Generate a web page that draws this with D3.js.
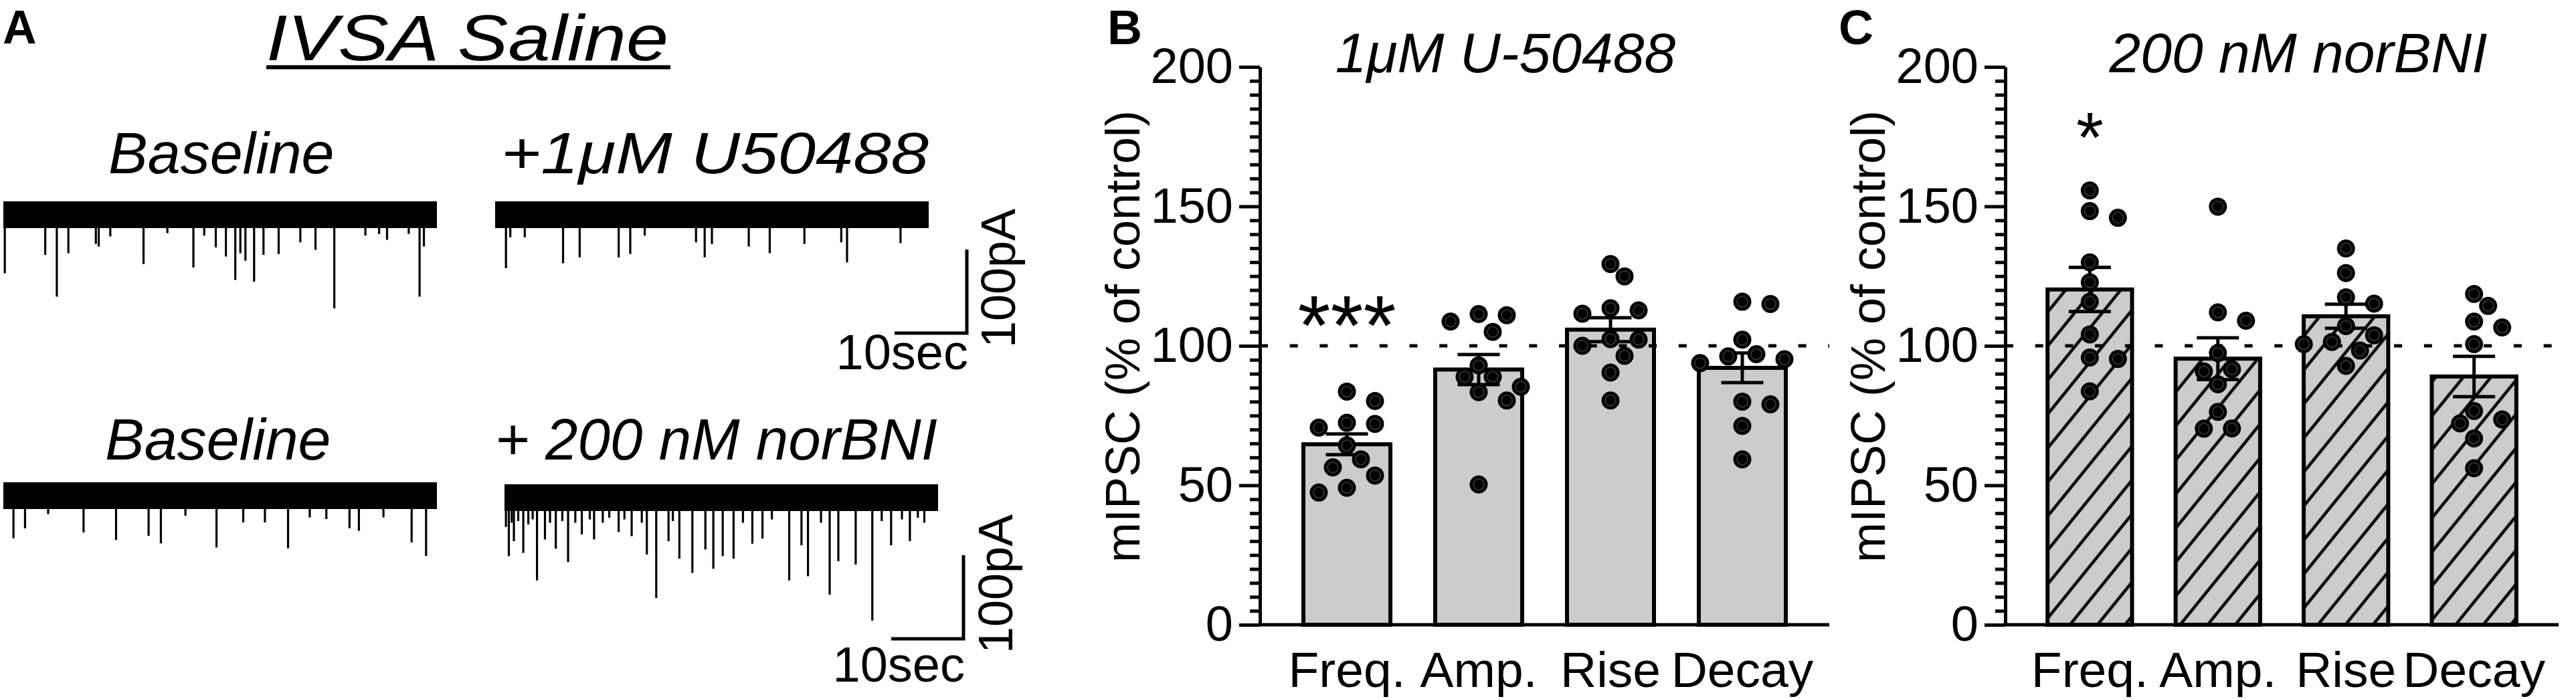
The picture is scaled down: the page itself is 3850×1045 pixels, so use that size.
<!DOCTYPE html>
<html><head><meta charset="utf-8">
<script src="https://cdn.jsdelivr.net/npm/d3@7"></script>
<style>body{margin:0;background:#fff}</style>
</head><body>
<svg id="chart" width="3850" height="1045"></svg>
<script>
// ---------------- DATA ----------------
const categories = ["Freq.", "Amp.", "Rise", "Decay"];
const yTicks = [0, 50, 100, 150, 200];

// Panel B (1 µM U-50488)
const meanB = [64.7, 91.5, 105.8, 92.1];
const semB  = [3.7, 5.4, 4.3, 5.3];
const ptsB_Freq  = [83.6, 80.2, 72.4, 72.0, 70.7, 64.3, 59.3, 56.4, 53.5, 49.1, 47.4];
const ptsB_Amp   = [111.4, 111.0, 108.7, 105.0, 93.0, 88.9, 88.9, 85.3, 83.4, 80.4, 50.3];
const ptsB_Rise  = [129.3, 124.9, 113.5, 112.7, 111.5, 102.4, 102.2, 100.0, 96.4, 90.4, 80.4];
const ptsB_Decay = [115.8, 115.0, 102.2, 97.0, 96.2, 95.2, 93.8, 80.0, 79.0, 71.3, 59.3];

// Panel C (200 nM norBNI)
const meanC = [120.2, 95.4, 110.6, 89.0];
const semC  = [7.9, 7.5, 4.3, 7.2];
const ptsC_Freq  = [155.7, 148.3, 145.9, 129.9, 122.8, 115.8, 104.1, 95.8, 95.3, 83.7];
const ptsC_Amp   = [149.9, 112.0, 109.0, 97.4, 91.6, 90.8, 86.2, 76.3, 70.4, 70.3];
const ptsC_Rise  = [134.9, 126.1, 117.4, 115.1, 107.1, 103.8, 101.4, 100.6, 98.3, 92.8];
const ptsC_Decay = [118.6, 114.3, 108.7, 106.6, 100.6, 76.6, 73.6, 72.2, 66.8, 56.1];

// Panel A traces: mIPSC event times (s) and amplitudes (pA)
const noiseBand = 16; // pA half-width of baseline noise
const trace1Times = [0.2, 5.8, 7.4, 9.0, 12.8, 13.2, 14.8, 19.4, 22.7, 26.3, 27.8, 29.4, 30.8, 32.1, 32.8, 33.5, 34.7, 36.0, 38.1, 41.1, 43.2, 45.8, 50.1, 52.0, 53.1, 56.1, 57.6, 58.2];
const trace1Amps  = [70, 48, 98, 46, 35, 38, 26, 59, 22, 63, 25, 39, 50, 78, 46, 55, 80, 48, 47, 33, 42, 112, 25, 23, 30, 23, 98, 38];
const trace2Times = [1.5, 2.1, 4.1, 9.4, 11.7, 17.1, 18.7, 20.7, 27.8, 29.0, 30.0, 35.1, 38.0, 42.8, 47.9, 48.7, 56.1];
const trace2Amps  = [64, 27, 27, 58, 51, 51, 47, 25, 33, 51, 35, 38, 46, 35, 33, 57, 34];
const trace3Times = [1.4, 3.0, 6.2, 11.1, 15.6, 20.1, 21.8, 25.2, 29.5, 33.2, 36.2, 39.4, 42.4, 44.7, 47.9, 49.2, 52.6, 56.5, 58.5];
const trace3Amps  = [51, 39, 22, 44, 53, 48, 57, 24, 62, 32, 32, 63, 26, 28, 39, 42, 26, 56, 72];
const trace4Times = [0.2, 0.6, 1.0, 1.3, 1.9, 2.6, 3.3, 3.9, 4.5, 5.6, 6.3, 7.1, 8.0, 8.8, 9.8, 10.7, 11.8, 12.4, 13.6, 14.5, 15.8, 16.6, 17.6, 19.0, 19.7, 21.0, 22.7, 23.3, 24.2, 26.0, 27.8, 28.9, 30.2, 31.7, 33.0, 34.3, 35.7, 37.0, 39.4, 41.1, 42.0, 43.8, 45.0, 46.2, 48.6, 50.9, 52.2, 53.5, 55.0, 56.1, 57.2, 58.1];
const trace4Amps  = [35, 70, 30, 52, 28, 66, 32, 26, 99, 50, 30, 61, 28, 77, 30, 44, 26, 50, 30, 24, 41, 26, 46, 30, 68, 120, 52, 28, 73, 90, 62, 85, 70, 73, 30, 55, 49, 26, 99, 57, 94, 30, 116, 76, 80, 147, 28, 57, 26, 52, 24, 30];

// ---------------- DRAW ----------------
const FONT = "'Liberation Sans', Arial, Helvetica, sans-serif";
const svg = d3.select("#chart");
svg.append("rect").attr("width", 3850).attr("height", 1045).attr("fill", "#fff");

const defs = svg.append("defs");
const pat = defs.append("pattern").attr("id", "hatch")
  .attr("patternUnits", "userSpaceOnUse").attr("width", 32).attr("height", 32)
  .attr("patternTransform", "rotate(39)");
pat.append("rect").attr("width", 32).attr("height", 32).attr("fill", "#cccccc");
pat.append("line").attr("x1", 16).attr("x2", 16).attr("y1", -2).attr("y2", 34)
  .attr("stroke", "#000").attr("stroke-width", 4.5);

function txt(x, y, s, size, opts = {}) {
  const t = svg.append("text").attr("x", x).attr("y", y).text(s)
    .attr("font-family", FONT).attr("font-size", size).attr("fill", "#000");
  if (opts.italic) t.attr("font-style", "italic");
  if (opts.bold) t.attr("font-weight", "bold");
  if (opts.anchor) t.attr("text-anchor", opts.anchor);
  if (opts.len) t.attr("textLength", opts.len).attr("lengthAdjust", "spacingAndGlyphs");
  if (opts.transform) t.attr("transform", opts.transform);
  return t;
}

// ---- Panel A ----
txt(4, 65, "A", 70, { bold: true });
txt(398, 90, "IVSA Saline", 96, { italic: true, len: 601 });
svg.append("line").attr("x1", 398).attr("x2", 1002).attr("y1", 100.5).attr("y2", 100.5)
  .attr("stroke", "#000").attr("stroke-width", 6);
txt(162, 259, "Baseline", 88, { italic: true });
txt(749, 259, "+1\u03bcM U50488", 88, { italic: true, len: 639 });
txt(157, 687, "Baseline", 88, { italic: true });
txt(740, 687, "+ 200 nM norBNI", 88, { italic: true, len: 661 });

const secPx = 10.8;   // px per second
const pAPx = 1.25;    // px per pA
function drawTrace(x0, base, times, amps) {
  const tx = d3.scaleLinear().domain([0, 60]).range([x0, x0 + 60 * secPx]);
  const ty = d3.scaleLinear().domain([0, -100]).range([base, base + 100 * pAPx]);
  const g = svg.append("g");
  g.append("rect").attr("x", tx(0)).attr("width", tx(60) - tx(0))
    .attr("y", ty(noiseBand)).attr("height", ty(-noiseBand) - ty(noiseBand)).attr("fill", "#000");
  g.selectAll("line").data(times.map((t, i) => [t, amps[i]])).join("line")
    .attr("x1", d => tx(d[0])).attr("x2", d => tx(d[0]))
    .attr("y1", ty(0)).attr("y2", d => ty(-d[1]))
    .attr("stroke", "#000").attr("stroke-width", 3.2);
  return { tx, ty };
}
drawTrace(5, 321, trace1Times, trace1Amps);
drawTrace(740, 321, trace2Times, trace2Amps);
drawTrace(5, 741, trace3Times, trace3Amps);
drawTrace(754, 744, trace4Times, trace4Amps);

function scaleBar(cx, cy, labelY, pAx, pAy) {
  const sx = d3.scaleLinear().domain([0, 10]).range([cx - 10 * secPx, cx]);
  const sy = d3.scaleLinear().domain([0, 100]).range([cy, cy - 100 * pAPx]);
  svg.append("path").attr("d", `M${sx(0)},${sy(0)}H${sx(10)}V${sy(100)}`)
    .attr("fill", "none").attr("stroke", "#000").attr("stroke-width", 5);
  txt(cx + 2, labelY, "10sec", 74, { anchor: "end" });
  txt(0, 0, "100pA", 72, { anchor: "middle", transform: `translate(${pAx},${pAy}) rotate(-90)` });
}
scaleBar(1445, 498, 552, 1517, 416);
scaleBar(1440, 955, 1019, 1513, 873);

// ---- Bar panels ----
const y = d3.scaleLinear().domain([0, 200]).range([934, 100]);

function swarm(values, cx, step, D) {
  const placed = [];
  const sorted = values.slice().sort((a, b) => b - a);
  sorted.forEach(v => {
    const py = y(v);
    const ks = [0, 1, -1, 2, -2, 3, -3, 4, -4];
    for (const k of ks) {
      const dx = k * step;
      if (placed.every(p => (p.dx - dx) ** 2 + (p.y - py) ** 2 >= D * D)) {
        placed.push({ dx, y: py, v }); break;
      }
    }
  });
  return placed.map(p => ({ x: cx + p.dx, y: p.y }));
}

function drawPanel(o) {
  const x = d3.scaleBand().domain(categories).range([o.axisX, o.axisEnd])
    .paddingInner(0.34).paddingOuter(0.33);
  const bw = x.bandwidth();

  // bars
  svg.append("g").selectAll("rect").data(categories).join("rect")
    .attr("x", c => x(c)).attr("width", bw)
    .attr("y", (c, i) => y(o.means[i])).attr("height", (c, i) => y(0) - y(o.means[i]))
    .attr("fill", o.hatch ? "url(#hatch)" : "#cccccc")
    .attr("stroke", "#000").attr("stroke-width", 6);

  // axes
  const g = svg.append("g").attr("transform", `translate(${o.axisX},0)`);
  g.call(d3.axisLeft(y).tickValues(yTicks).tickSize(31).tickSizeOuter(0).tickPadding(9));
  const gm = g.append("g").call(d3.axisLeft(y).tickValues(d3.range(0, 201, 5).filter(v => v % 50 !== 0))
    .tickSize(15).tickSizeOuter(0).tickFormat(""));
  gm.select(".domain").remove();
  g.selectAll("path.domain, line").attr("stroke", "#000").attr("stroke-width", 5);
  g.selectAll("text").attr("font-size", 74).attr("font-family", FONT).attr("fill", "#000");
  svg.append("line").attr("x1", o.axisX - 2.5).attr("x2", o.axisEnd).attr("y1", y(0)).attr("y2", y(0))
    .attr("stroke", "#000").attr("stroke-width", 5);

  // reference line at 100%
  svg.append("line").attr("x1", o.axisX).attr("x2", o.axisEnd).attr("y1", y(100)).attr("y2", y(100))
    .attr("stroke", "#000").attr("stroke-width", 5).attr("stroke-dasharray", "12 32.7");

  // error bars
  const eg = svg.append("g").attr("stroke", "#000").attr("stroke-width", 5);
  categories.forEach((c, i) => {
    const cx = x(c) + bw / 2;
    const hi = y(o.means[i] + o.sems[i]), lo = y(o.means[i] - o.sems[i]);
    eg.append("line").attr("x1", cx).attr("x2", cx).attr("y1", hi).attr("y2", lo);
    eg.append("line").attr("x1", cx - 31.5).attr("x2", cx + 31.5).attr("y1", hi).attr("y2", hi);
    eg.append("line").attr("x1", cx - 31.5).attr("x2", cx + 31.5).attr("y1", lo).attr("y2", lo);
  });

  // dots
  const dg = svg.append("g");
  categories.forEach((c, i) => {
    const pts = swarm(o.points[i], x(c) + bw / 2, 21, 27);
    const sel = dg.append("g").selectAll("g").data(pts).join("g");
    sel.append("circle").attr("cx", d => d.x).attr("cy", d => d.y).attr("r", 13.5).attr("fill", "#000");
    sel.append("circle").attr("cx", d => d.x).attr("cy", d => d.y).attr("r", 8)
      .attr("fill", "none").attr("stroke", "#3c3c3c").attr("stroke-width", 1.5);
  });

  // labels
  categories.forEach(c => txt(x(c) + bw / 2, 1027, c, 75, { anchor: "middle" }));
  txt(0, 0, "mIPSC (% of control)", 72, { anchor: "middle", transform: `translate(${o.labelX},503) rotate(-90)` });
  txt(o.titleX, 108, o.title, 84, { italic: true, anchor: "middle" });
  txt(o.letterX, o.letterY, o.letter, 72, { bold: true });
  const fx = x(categories[0]) + bw / 2;
  txt(fx, o.sigY, o.sig, o.sigSize, { anchor: "middle" });
}

drawPanel({
  axisX: 1883, axisEnd: 2734, means: meanB, sems: semB,
  points: [ptsB_Freq, ptsB_Amp, ptsB_Rise, ptsB_Decay], hatch: false,
  title: "1\u03bcM U-50488", titleX: 2250, letter: "B", letterX: 1655, letterY: 66,
  labelX: 1703, sig: "***", sigY: 530, sigSize: 126
});
drawPanel({
  axisX: 2997, axisEnd: 3824, means: meanC, sems: semC,
  points: [ptsC_Freq, ptsC_Amp, ptsC_Rise, ptsC_Decay], hatch: true,
  title: "200 nM norBNI", titleX: 3435, letter: "C", letterX: 2748, letterY: 66,
  labelX: 2817, sig: "*", sigY: 242, sigSize: 105
});
</script>
</body></html>
